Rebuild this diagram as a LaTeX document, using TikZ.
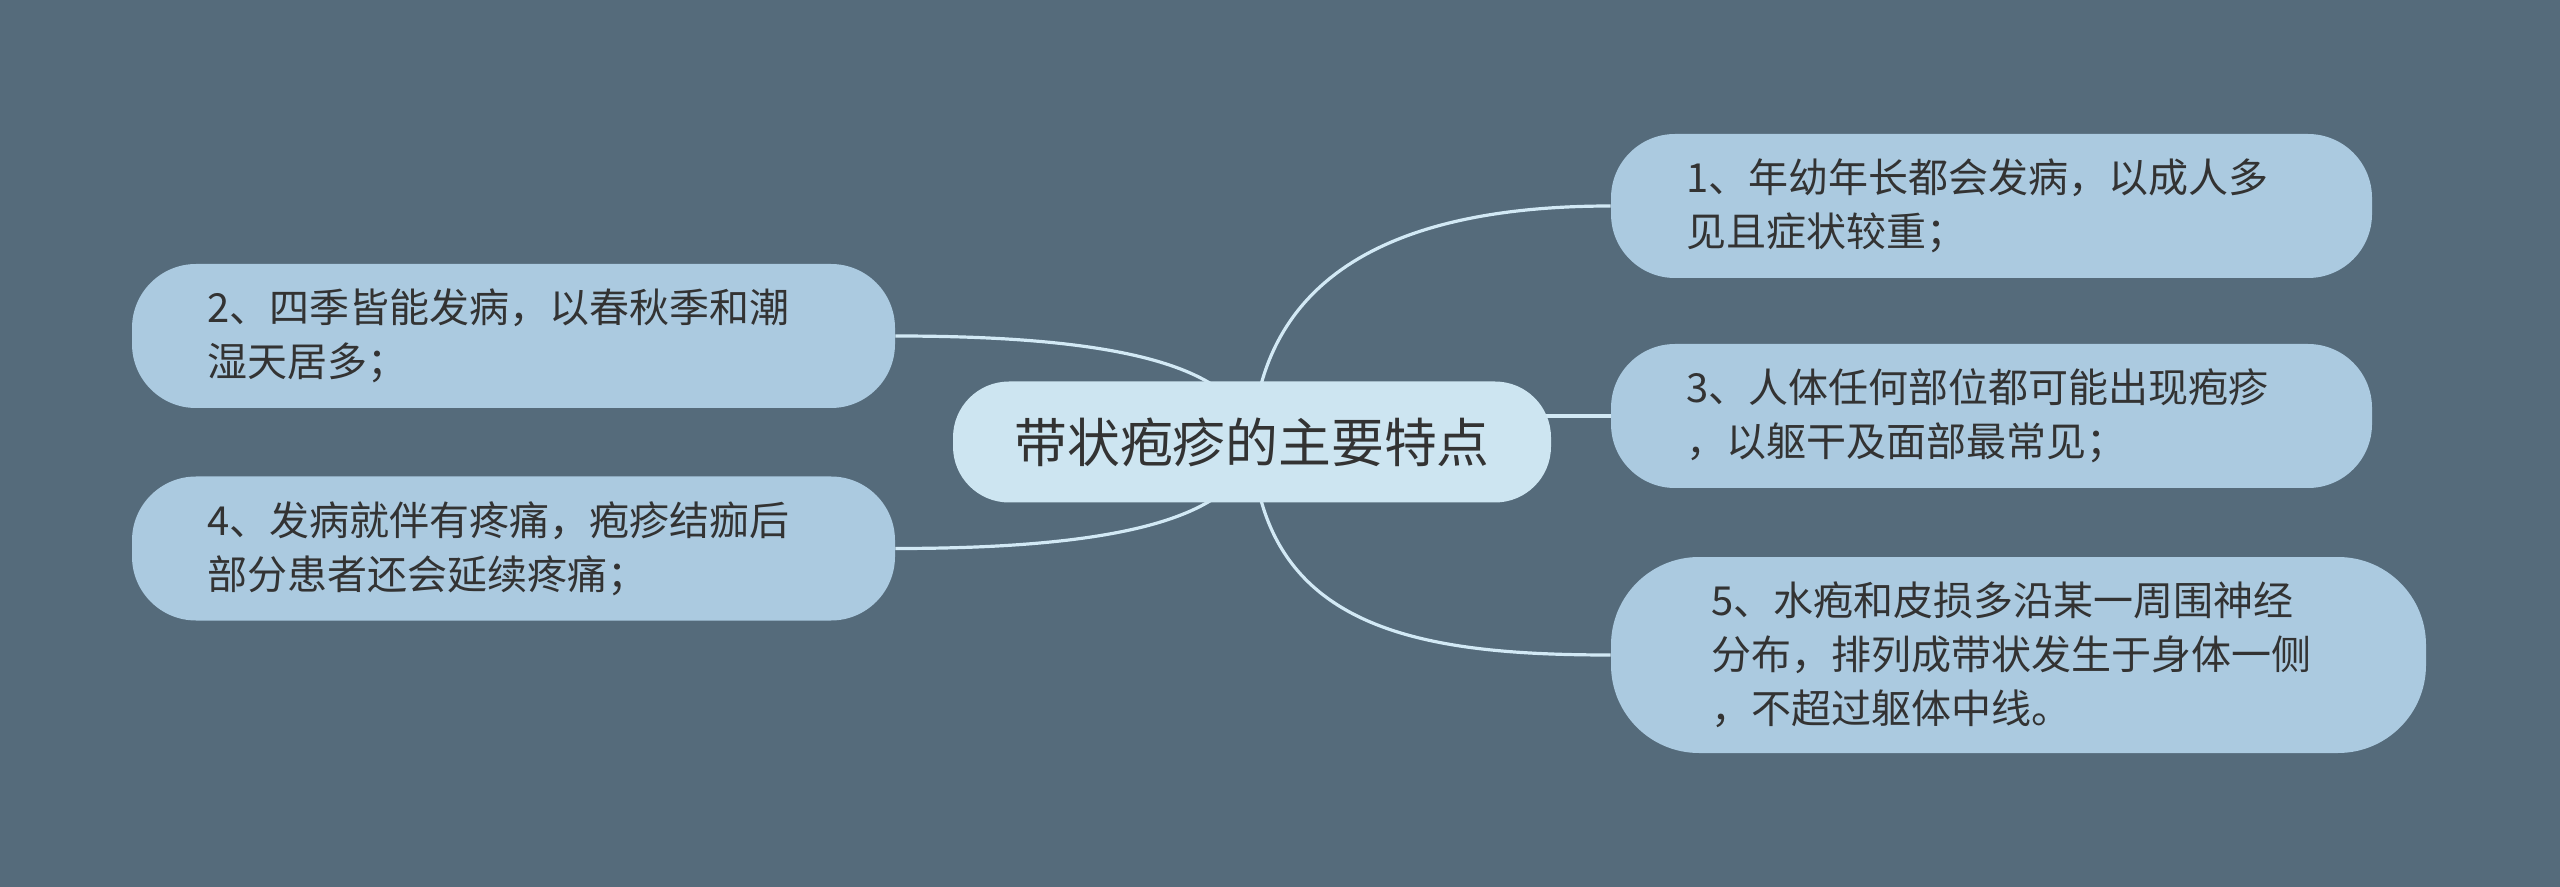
\documentclass[tikz,border=0pt]{standalone}
\usepackage{fontspec}
\setmainfont{Noto Sans CJK SC}
\usetikzlibrary{calc}
\definecolor{bgc}{HTML}{556B7B}
\definecolor{nodec}{HTML}{ABCAE0}
\definecolor{centc}{HTML}{CDE5F1}
\definecolor{linec}{HTML}{D2E9F5}
\definecolor{txtc}{HTML}{333333}
\pgfdeclarelayer{back}
\pgfdeclarelayer{bg}
\pgfsetlayers{back,bg,main}
\tikzset{
  leafbox/.style={rectangle, fill=nodec, text=txtc, rounded corners=32pt,
    minimum height=72pt, inner ysep=0pt, inner xsep=37.5pt, align=left,
    font=\fontsize{20pt}{27pt}\selectfont},
  rootbox/.style={rectangle, fill=centc, text=txtc, rounded corners=28pt,
    minimum width=299pt, minimum height=60.5pt, inner sep=0pt,
    font=\fontsize{26.4pt}{32pt}\selectfont},
  conn/.style={draw=linec, line width=1.6pt}
}
\begin{document}
\begin{tikzpicture}[x=0.5pt,y=-0.5pt]
\begin{pgfonlayer}{back}
\fill[bgc] (0,0) rectangle (2560,887);
\end{pgfonlayer}
\useasboundingbox (0,0) rectangle (2560,887);
\node[rootbox] (c) at (1252,442) {带状疱疹的主要特点};
\node[leafbox, text width=305.5pt] (n1) at (1991.5,206) {1、年幼年长都会发病，以成人多\\见且症状较重；};
\node[leafbox, text width=305.5pt] (n3) at (1991.5,416) {3、人体任何部位都可能出现疱疹\\，以躯干及面部最常见；};
\node[leafbox, text width=307.5pt, inner xsep=50pt, minimum height=98pt, rounded corners=44pt] (n5) at (2018.5,655) {5、水疱和皮损多沿某一周围神经\\分布，排列成带状发生于身体一侧\\，不超过躯体中线。};
\node[leafbox, text width=306.5pt] (n2) at (513.5,336) {2、四季皆能发病，以春秋季和潮\\湿天居多；};
\node[leafbox, text width=306.5pt] (n4) at (513.5,548.5) {4、发病就伴有疼痛，疱疹结痂后\\部分患者还会延续疼痛；};
\begin{pgfonlayer}{bg}
\draw[conn] (c.center) .. controls +(10,-182) and ($(n1.west)+(-191,0)$) .. (n1.west);
\draw[conn] (c.center) .. controls +(10,188) and ($(n5.west)+(-191,0)$) .. (n5.west);
\draw[conn] (n3.west) -- (c.center |- n3.west);
\draw[conn] (n2.east) .. controls +(190,0) and ($(c.center)+(-8,-85)$) .. (c.center);
\draw[conn] (n4.east) .. controls +(190,0) and ($(c.center)+(-8,85)$) .. (c.center);
\end{pgfonlayer}
\end{tikzpicture}
\end{document}
